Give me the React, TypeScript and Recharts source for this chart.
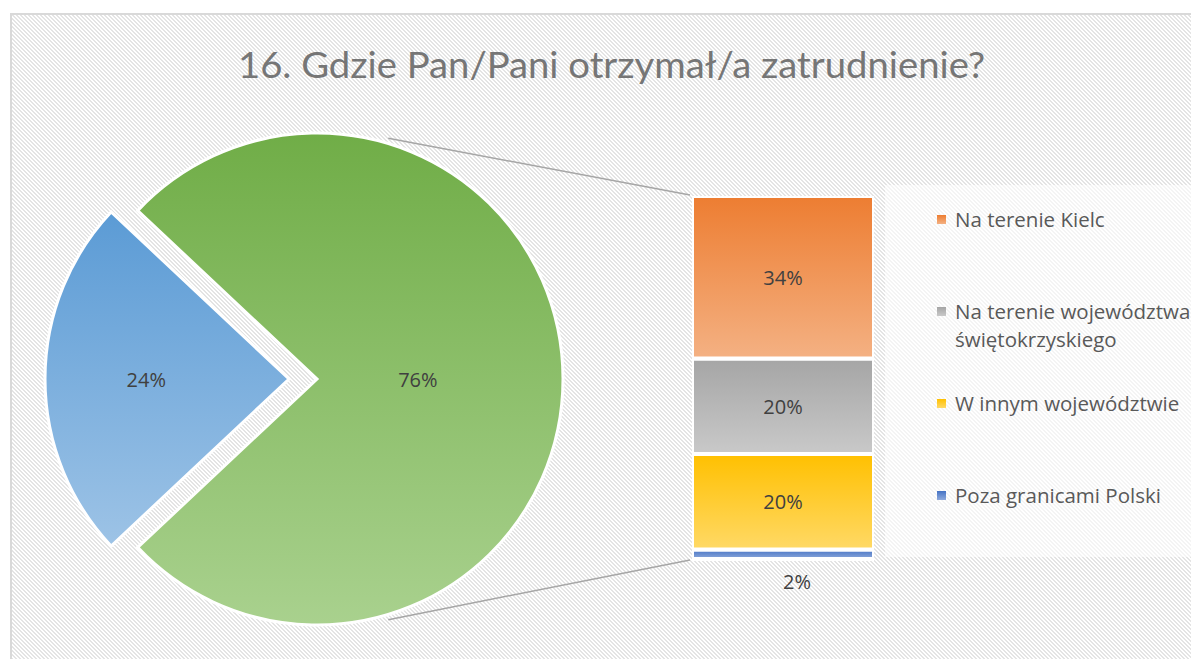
import React from 'react';
import { PieChart, Pie, Cell, BarChart, Bar, XAxis, YAxis, LabelList } from 'recharts';

const title = '16. Gdzie Pan/Pani otrzymał/a zatrudnienie?';

// pie: exploded slice first, then the slice that is broken out into the bar
const pieNames = ['Pozostałe', 'Razem w słupku'];
const pieValues = [24, 76];

// bar of pie, top to bottom
const barNames = [
  'Na terenie Kielc',
  'Na terenie województwa świętokrzyskiego',
  'W innym województwie',
  'Poza granicami Polski',
];
const barValues = [34, 20, 20, 2];

const pieGrads = [
  ['#5B9BD5', '#9DC3E6'],
  ['#70AD47', '#A9D18E'],
];
const barGrads = [
  ['#ED7D31', '#F4B183'],
  ['#A5A5A5', '#C9C9C9'],
  ['#FFC000', '#FFD966'],
  ['#4472C4', '#8FAADC'],
];

const FONT = '"Open Sans", Lato, sans-serif';
const TITLE_FONT = 'Lato, "Open Sans", sans-serif';
const RAD = Math.PI / 180;

const PIE_CX = 305;
const PIE_CY = 364;
const PIE_R = 246;
const EXPLODE = 28;
const LABEL_R = [0.58, 0.41];

const BAR_X = 680;
const BAR_Y = 181;
const BAR_W = 182;
const BAR_H = 363;

const pieData = pieNames.map((name, i) => ({ name, value: pieValues[i] }));
const barRow: { [k: string]: number | string } = { name: 'słupek' };
barValues.forEach((v, i) => (barRow['s' + i] = v));
const barTotal = barValues.reduce((a, b) => a + b, 0);

const pieTotal = pieValues.reduce((a, b) => a + b, 0);
const startAngle = 180 - (pieValues[0] / pieTotal) * 180;

// fine "\" hatch, 4px tile
const hatch =
  "url(\"data:image/svg+xml;utf8,<svg xmlns='http://www.w3.org/2000/svg' width='4' height='4' shape-rendering='crispEdges'>" +
  "<rect width='4' height='4' fill='%23ffffff'/>" +
  "<rect x='0' y='0' width='2' height='1' fill='%23e4e4e4'/>" +
  "<rect x='1' y='1' width='2' height='1' fill='%23e4e4e4'/>" +
  "<rect x='2' y='2' width='2' height='1' fill='%23e4e4e4'/>" +
  "<rect x='3' y='3' width='1' height='1' fill='%23e4e4e4'/>" +
  "<rect x='0' y='3' width='1' height='1' fill='%23e4e4e4'/>" +
  '</svg>")';

const Grad = ({ id, c }: { id: string; c: string[] }) => (
  <linearGradient id={id} x1="0" y1="0" x2="0" y2="1">
    <stop offset="0%" stopColor={c[0]} />
    <stop offset="100%" stopColor={c[1]} />
  </linearGradient>
);

const makePieLabel = (show: number) => (p: any) => {
  if (p.index !== show) return null;
  const r = PIE_R * LABEL_R[p.index];
  const x = p.cx + r * Math.cos(-p.midAngle * RAD);
  const y = p.cy + r * Math.sin(-p.midAngle * RAD);
  return (
    <text x={x} y={y} textAnchor="middle" dominantBaseline="central" fill="#404040" fontSize={20} fontFamily={FONT}>
      {`${p.value}%`}
    </text>
  );
};

const BarLabel = (p: any) => {
  const x = Number(p.x);
  const y = Number(p.y);
  const w = Number(p.width);
  const h = Number(p.height);
  const small = h < 20;
  return (
    <text
      x={x + w / 2 + (small ? 14 : 0)}
      y={small ? y + h + 22 : y + h / 2}
      textAnchor="middle"
      dominantBaseline="central"
      fill="#404040"
      fontSize={20}
      fontFamily={FONT}
    >
      {`${p.value}%`}
    </text>
  );
};

export default function App() {
  const a = 73.5 * RAD;
  const rr = PIE_R + 5;
  const top = { x: PIE_CX + rr * Math.cos(a), y: PIE_CY - rr * Math.sin(a) };
  const bot = { x: PIE_CX + rr * Math.cos(a), y: PIE_CY + rr * Math.sin(a) };

  return (
    <div
      style={{
        position: 'relative',
        marginLeft: 2,
        marginTop: 5,
        width: 1200,
        height: 660,
        borderLeft: '2px solid #d9d9d9',
        borderTop: '2px solid #d9d9d9',
        backgroundColor: '#fff',
        backgroundImage: hatch,
        fontFamily: FONT,
        overflow: 'hidden',
      }}
    >
      <svg width={1200} height={660} style={{ position: 'absolute', left: 0, top: 0 }}>
        <text
          x={599.5}
          y={63}
          textAnchor="middle"
          fontSize={36}
          fill="#767676"
          fontFamily={TITLE_FONT}
          textLength={747}
          lengthAdjust="spacingAndGlyphs"
        >
          {title}
        </text>
        <line x1={top.x} y1={top.y} x2={BAR_X - 2} y2={BAR_Y - 1} stroke="#a6a6a6" strokeWidth={1.5} />
        <line x1={bot.x} y1={bot.y} x2={BAR_X - 2} y2={BAR_Y + BAR_H + 1} stroke="#a6a6a6" strokeWidth={1.5} />
      </svg>

      <div
        style={{
          position: 'absolute',
          left: 873,
          top: 170,
          width: 330,
          height: 372,
          background: 'rgba(255,255,255,0.6)',
        }}
      />

      <div style={{ position: 'absolute', left: 0, top: 0 }}>
        <PieChart width={640} height={660} margin={{ top: 0, right: 0, bottom: 0, left: 0 }}>
          <defs>
            {pieGrads.map((c, i) => (
              <Grad key={i} id={'pg' + i} c={c} />
            ))}
          </defs>
          <Pie
            data={pieData}
            dataKey="value"
            cx={PIE_CX}
            cy={PIE_CY}
            outerRadius={PIE_R}
            startAngle={startAngle}
            endAngle={startAngle + 360}
            isAnimationActive={false}
            label={makePieLabel(1)}
            labelLine={false}
          >
            {pieData.map((d, i) =>
              i === 1 ? (
                <Cell key={i} fill="url(#pg1)" stroke="#fff" strokeWidth={3} />
              ) : (
                <Cell key={i} fill="none" stroke="none" />
              )
            )}
          </Pie>
          <Pie
            data={pieData}
            dataKey="value"
            cx={PIE_CX - EXPLODE}
            cy={PIE_CY}
            outerRadius={PIE_R - 2}
            startAngle={startAngle}
            endAngle={startAngle + 360}
            isAnimationActive={false}
            label={makePieLabel(0)}
            labelLine={false}
          >
            {pieData.map((d, i) =>
              i === 0 ? (
                <Cell key={i} fill="url(#pg0)" stroke="#fff" strokeWidth={3} />
              ) : (
                <Cell key={i} fill="none" stroke="none" />
              )
            )}
          </Pie>
        </PieChart>
      </div>

      <div style={{ position: 'absolute', left: BAR_X, top: BAR_Y }}>
        <BarChart
          width={BAR_W}
          height={BAR_H + 40}
          data={[barRow]}
          margin={{ top: 0, right: 0, bottom: 40, left: 0 }}
          barCategoryGap={0}
        >
          <defs>
            {barGrads.map((c, i) => (
              <Grad key={i} id={'bg' + i} c={c} />
            ))}
          </defs>
          <XAxis dataKey="name" hide />
          <YAxis type="number" domain={[0, barTotal]} hide />
          {barValues
            .map((_, i) => i)
            .reverse()
            .map((i) => (
              <Bar
                key={i}
                dataKey={'s' + i}
                name={barNames[i]}
                stackId="a"
                fill={`url(#bg${i})`}
                stroke="#fff"
                strokeWidth={4}
                isAnimationActive={false}
              >
                <LabelList dataKey={'s' + i} content={BarLabel} />
              </Bar>
            ))}
        </BarChart>
      </div>

      <div style={{ position: 'absolute', left: 925, top: 190, color: '#595959', fontSize: 20.5 }}>
        {barNames.map((n, i) => (
          <div key={i} style={{ position: 'absolute', top: i * 92, left: 0, width: 272, display: 'flex' }}>
            <div
              style={{
                width: 9,
                height: 9,
                marginTop: 10,
                flex: 'none',
                background: `linear-gradient(${barGrads[i][0]}, ${barGrads[i][1]})`,
              }}
            />
            <div style={{ marginLeft: 9, lineHeight: '28px', whiteSpace: 'pre-line' }}>{n}</div>
          </div>
        ))}
      </div>
    </div>
  );
}
